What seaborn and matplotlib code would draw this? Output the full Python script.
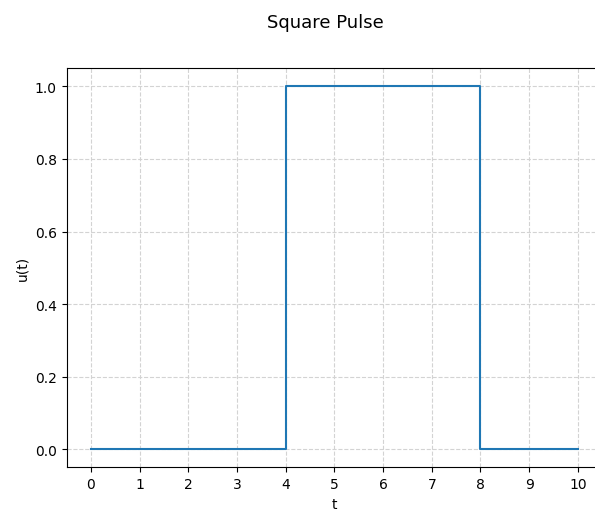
import matplotlib
matplotlib.use("Agg")
import matplotlib.pyplot as plt
import seaborn as sns

t = [0, 4, 4, 8, 8, 10]
u = [0, 0, 1, 1, 0, 0]
xticks = list(range(0, 11))

plt.rcParams['font.family'] = ['DejaVu Sans']

fig = plt.figure(figsize=(5.95, 5.10), dpi=100)
ax = fig.add_axes([66.6 / 595, 1 - 468.3 / 510, 535.6 / 595, 399.0 / 510])
sns.lineplot(x=t, y=u, estimator=None, sort=False, ax=ax, color="#1f77b4", linewidth=1.5)
ax.set_xticks(xticks)
ax.set_xlim(-0.5, 10.5)
ax.set_ylim(-0.05, 1.05)
ax.set_xlabel("t")
ax.set_ylabel("u(t)")
ax.grid(True, linestyle="--", color="#d3d3d3", linewidth=0.8)
fig.text(325.5 / 595, 1 - 23.5 / 510, "Square Pulse", ha="center", va="center", fontsize=13)
fig.savefig("out.png", dpi=100)
